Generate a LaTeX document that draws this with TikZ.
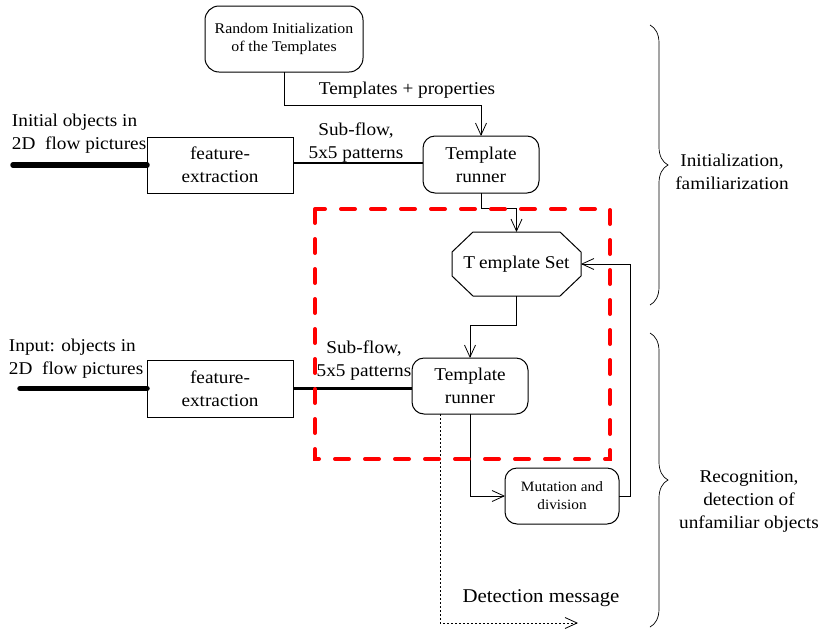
\documentclass[tikz,border=0pt]{standalone}
\usepackage{fontspec}
\setmainfont[FakeStretch=1.07]{Liberation Serif}
\usetikzlibrary{arrows.meta,calc,decorations.pathreplacing}
\begin{document}
\begin{tikzpicture}[x=1pt,y=-1pt,
  every node/.style={inner sep=0pt, outer sep=0pt},
  lbl/.style={font=\fontsize{18}{23}\selectfont, align=center},
  smalllbl/.style={font=\fontsize{14.8}{18}\selectfont, align=center},
  tinylbl/.style={font=\fontsize{14.3}{18}\selectfont, align=center},
  rbox/.style={draw, rounded corners=12pt, line width=1pt},
  sbox/.style={draw, line width=1pt},
  conn/.style={line width=0.8pt},
  arr/.style={-{Straight Barb[length=12pt,width=11pt,line width=0.8pt]}},
  heavy/.style={line width=5.5pt, line cap=round},
  subflow/.style={line width=2.6pt},
  dotline/.style={line width=0.8pt, dash pattern=on 2pt off 2pt},
  redframe/.style={red, line width=4pt, line cap=round, dash pattern=on 14pt off 16pt},
  bracestyle/.style={line width=0.7pt, decorate, decoration={brace, amplitude=18pt}}
]
\useasboundingbox (0,0) rectangle (825,630);

% boxes
\node[rbox, smalllbl, minimum width=158pt, minimum height=66pt, rounded corners=14pt] (ri) at (284,39) {Random Initialization\\of the Templates};
\node[rbox, lbl, minimum width=116pt, minimum height=57pt] (tr1) at (481,164.5) {Template\\runner};
\node[sbox, lbl, minimum width=146pt, minimum height=56pt] (fe1) at (220,165) {feature-\\extraction};
\node[lbl, minimum width=129pt, minimum height=64pt] (ts) at (516.5,264) {T\hspace{4pt}emplate Set};
\draw[sbox] ($(ts.north west)+(21,0)$) -- ($(ts.north east)+(-21,0)$) -- ($(ts.north east)+(0,20)$)
  -- ($(ts.south east)+(0,-20)$) -- ($(ts.south east)+(-21,0)$) -- ($(ts.south west)+(21,0)$)
  -- ($(ts.south west)+(0,-20)$) -- ($(ts.north west)+(0,20)$) -- cycle;
\node[rbox, lbl, minimum width=116pt, minimum height=56pt] (tr2) at (470,386) {Template\\runner};
\node[sbox, lbl, minimum width=146pt, minimum height=57pt] (fe2) at (220,388.5) {feature-\\extraction};
\node[rbox, tinylbl, minimum width=114pt, minimum height=56pt] (mut) at (562,496) {Mutation and\\division};

% labels
\node[lbl, align=left, anchor=west] (l1) at (12,133.5) {Initial objects in\\2D\ \ flow pictures};
\node[lbl, align=left, anchor=west] (l2) at (9,359) {Input: objects in\\2D\ \ flow pictures};
\node[lbl] (sf1) at (356,142.5) {Sub-flow,\\5x5 patterns};
\node[lbl] (sf2) at (364,361) {Sub-flow,\\5x5 patterns};
\node[lbl] (tp) at (407,90) {Templates + properties};
\node[lbl] (init) at (732,171.5) {Initialization,\\familiarization};
\node[lbl] (rec) at (749,501.5) {Recognition,\\detection of\\unfamiliar objects};
\node[font=\fontsize{19.5}{23}\selectfont] (dm) at (541,598) {Detection message};

% inputs
\coordinate (in1) at (13,165);
\coordinate (in2) at (20,388.5);
\draw[heavy] (in1) -- (fe1.west);
\draw[heavy] (in2) -- (fe2.west);
\draw[subflow] ([yshift=2pt]fe1.east) -- ([yshift=2pt]fe1.east -| tr1.west);
\draw[subflow] (fe2.east) -- (fe2.east -| tr2.west);

% connectors
\draw[conn,arr] (ri.south) -- ++(0,33) -| (tr1.north);
\draw[conn,arr] (tr1.south) -- ++(0,15) -| (ts.north);
\draw[conn,arr] (ts.south) -- ++(0,29) -| (tr2.north);
\draw[conn,arr] (tr2.south) |- (mut.west);
\draw[conn,arr] (mut.east) -- ++(11,0) |- (ts.east);
\coordinate (dmend) at (578,623);
\draw[dotline,arr] ([xshift=-30pt]tr2.south) |- (dmend);

% red frame
\draw[redframe] (315,209) rectangle (610,459);

% braces
\draw[bracestyle] (650,25) -- (650,305);
\draw[bracestyle] (650,333) -- (650,627);
\end{tikzpicture}
\end{document}
